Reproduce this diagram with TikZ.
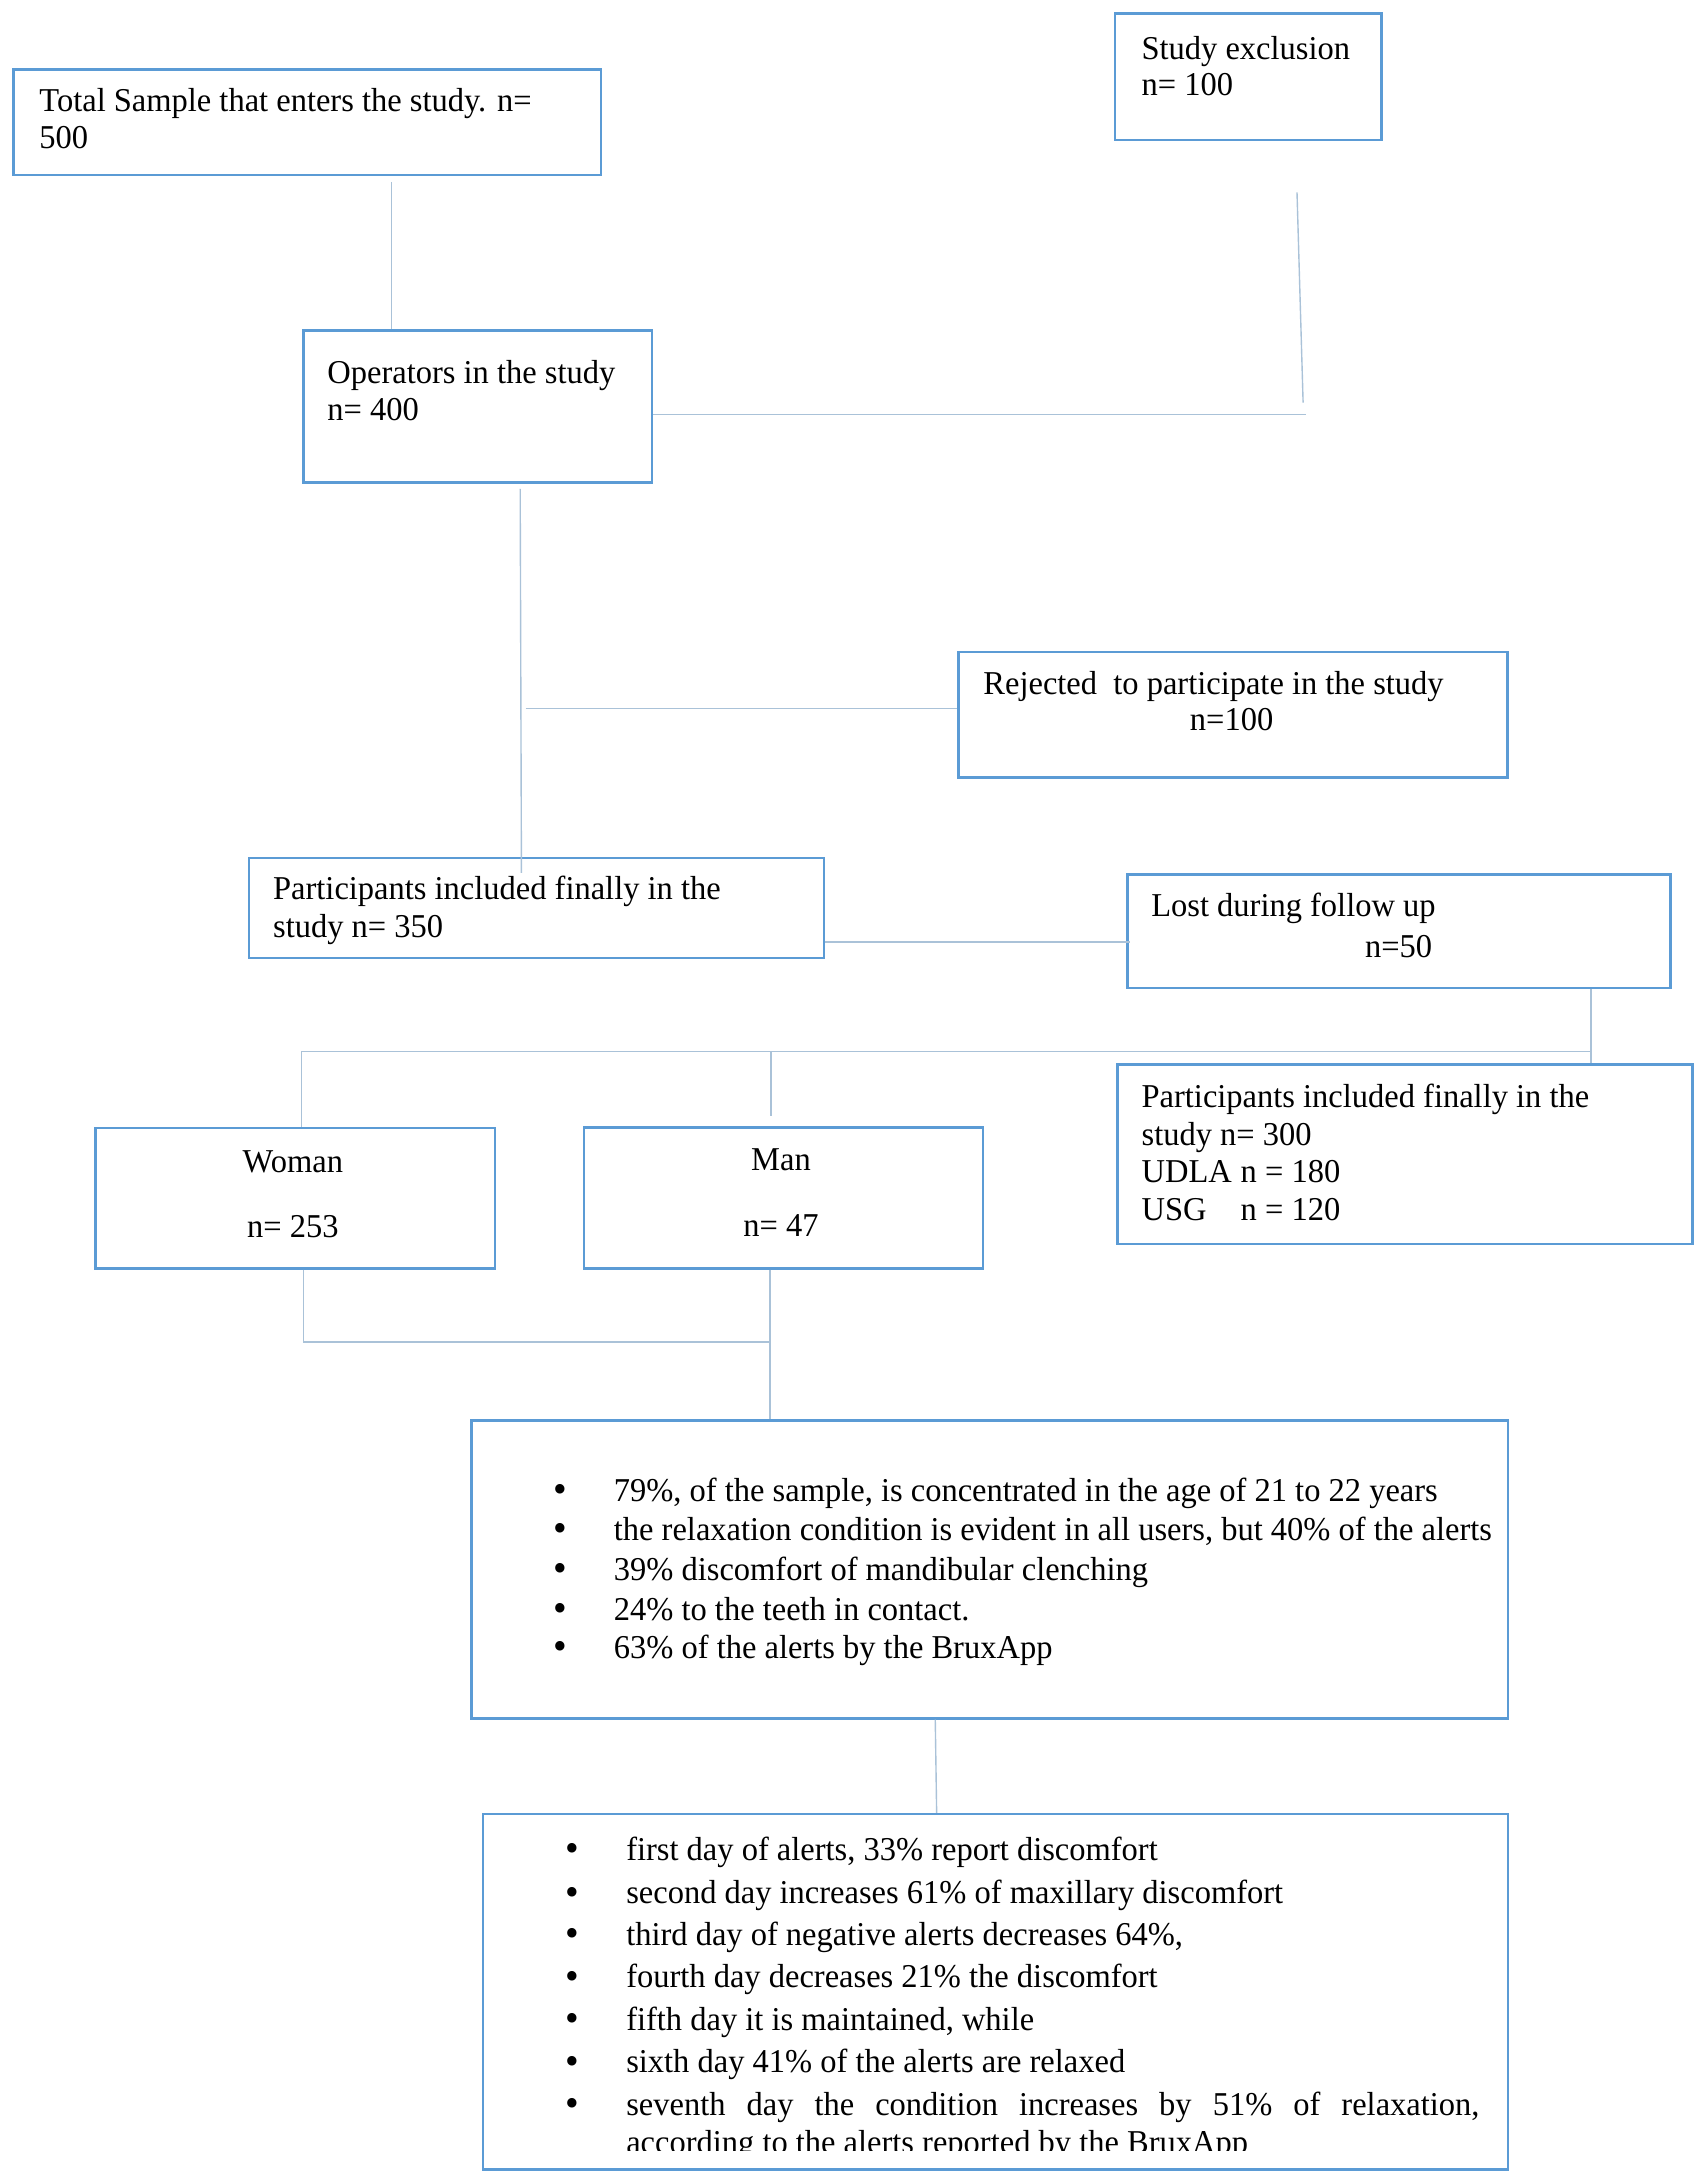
\documentclass[tikz,border=0pt]{standalone}
\usepackage{fontspec}
\setmainfont{Liberation Serif}[FakeStretch=0.975]
\definecolor{boxblue}{RGB}{91,155,213}
\definecolor{linkgray}{RGB}{170,194,216}
\newcommand{\bigbul}{\smash{\raisebox{-0.6pt}{\scalebox{1.2}{\textbullet}}}}
\begin{document}
\begin{tikzpicture}[x=0.5pt,y=-0.5pt,
  box/.style={draw=boxblue, line width=0.9pt, rectangle, inner sep=0pt, anchor=north west},
  txt/.style={inner sep=0pt, anchor=base west, font=\fontsize{12}{14}\selectfont},
  ctxt/.style={txt, anchor=base},
  link/.style={draw=linkgray, line width=0.5pt}]
\fill[white] (0,0) rectangle (1225,1567);
\useasboundingbox (0,0) rectangle (1225,1567);

% boxes
\node[box, minimum width=211.5pt, minimum height=38pt]    (tot)  at (9,49) {};
\node[box, minimum width=96pt,    minimum height=45.5pt]  (exc)  at (802,9) {};
\node[box, minimum width=125.5pt, minimum height=54.75pt] (ope)  at (217.5,237) {};
\node[box, minimum width=197.5pt, minimum height=45.25pt] (rej)  at (689.5,468.5) {};
\node[box, minimum width=207pt,   minimum height=36pt]    (p350) at (178.5,617) {};
\node[box, minimum width=195.5pt, minimum height=40.75pt] (lost) at (811,629) {};
\node[box, minimum width=207pt,   minimum height=64.75pt] (p300) at (804,765.5) {};
\node[box, minimum width=143.75pt,minimum height=50.5pt]  (wom)  at (68,811.5) {};
\node[box, minimum width=143.75pt,minimum height=50.75pt] (man)  at (419.5,811) {};
\node[box, minimum width=373.25pt,minimum height=107.25pt](res1) at (338.5,1022) {};
\node[box, minimum width=369pt,   minimum height=128pt]   (res2) at (347,1305.5) {};

% texts
\node[txt] (tot1) at (28,80.4) {Total Sample that enters the study. n=};
\node[txt] (tot2) at (28,107.3) {500};
\node[txt] (exc1) at (821.7,42.7) {Study exclusion};
\node[txt] (exc2) at (821.7,69.1) {n= 100};
\node[txt] (ope1) at (235.4,276) {Operators in the study};
\node[txt] (ope2) at (235.4,303) {n= 400};
\node[txt] (rej1) at (707.8,500) {Rejected\ \ to participate in the study};
\node[txt] (rej2) at (856.5,526.4) {n=100};
\node[txt] (p3501) at (196.3,648) {Participants included finally in the};
\node[txt] (p3502) at (196.3,675) {study n= 350};
\node[txt] (lost1) at (828.7,660.1) {Lost during follow up};
\node[txt, anchor=base east] (lost2) at (1031.7,689.4) {n=50};
\node[txt] (p3001) at (821.7,797.5) {Participants included finally in the};
\node[txt] (p3002) at (821.7,824.6) {study n= 300};
\node[txt] (p3003) at (821.7,851.7) {\makebox[35.7pt][l]{UDLA}n = 180};
\node[txt] (p3004) at (821.7,878.6) {\makebox[35.7pt][l]{USG}n = 120};
\node[ctxt] (wom1) at (210.9,844.3) {Woman};
\node[ctxt] (wom2) at (210.9,891.5) {n= 253};
\node[ctxt] (man1) at (562.4,843) {Man};
\node[ctxt] (man2) at (562.4,890.6) {n= 47};

% results 1
\node[ctxt] (ba1) at (403.3,1081) {\bigbul};
\node[ctxt] (ba2) at (403.3,1109) {\bigbul};
\node[ctxt] (ba3) at (403.3,1137.8) {\bigbul};
\node[ctxt] (ba4) at (403.3,1166.6) {\bigbul};
\node[ctxt] (ba5) at (403.3,1194) {\bigbul};
\node[txt] (ta1) at (441.7,1081) {79\%, of the sample, is concentrated in the age of 21 to 22 years};
\node[txt] (ta2) at (441.7,1109) {the relaxation condition is evident in all users, but 40\% of the alerts};
\node[txt] (ta3) at (441.7,1137.8) {39\% discomfort of mandibular clenching};
\node[txt] (ta4) at (441.7,1166.6) {24\% to the teeth in contact.};
\node[txt] (ta5) at (441.7,1194) {63\% of the alerts by the BruxApp};

% results 2
\node[ctxt] (bb1) at (412.4,1339.5) {\bigbul};
\node[ctxt] (bb2) at (412.4,1370.7) {\bigbul};
\node[ctxt] (bb3) at (412.4,1400.7) {\bigbul};
\node[ctxt] (bb4) at (412.4,1431.2) {\bigbul};
\node[ctxt] (bb5) at (412.4,1461.9) {\bigbul};
\node[ctxt] (bb6) at (412.4,1492.6) {\bigbul};
\node[ctxt] (bb7) at (412.4,1523.1) {\bigbul};
\node[txt] (tb1) at (450.6,1339.5) {first day of alerts, 33\% report discomfort};
\node[txt] (tb2) at (450.6,1370.7) {second day increases 61\% of maxillary discomfort};
\node[txt] (tb3) at (450.6,1400.7) {third day of negative alerts decreases 64\%,};
\node[txt] (tb4) at (450.6,1431.2) {fourth day decreases 21\% the discomfort};
\node[txt] (tb5) at (450.6,1461.9) {fifth day it is maintained, while};
\node[txt] (tb6) at (450.6,1492.6) {sixth day 41\% of the alerts are relaxed};
\node[txt] (tb7) at (450.6,1523.1) {\hbox to 307.2pt{seventh\hfill day\hfill the\hfill condition\hfill increases\hfill by\hfill 51\%\hfill of\hfill relaxation,}};
\begin{scope}
  \clip (347,1305.5) rectangle (1085,1548.5);
  \node[txt] (tb8) at (450.6,1550.7) {according to the alerts reported by the BruxApp};
\end{scope}

% connectors
\coordinate (c1) at (281.8,131);
\draw[link] (c1) -- (c1 |- ope.north);
\coordinate (ex1) at (934,138.5);
\coordinate (ex2) at (938.4,290);
\draw[link] (ex1) -- (ex2);
\coordinate (ex3) at (940.5,298.4);
\draw[link] (ope.east |- ex3) -- (ex3);
\coordinate (o1) at (374.6,352);
\coordinate (o2) at (375.5,628.5);
\draw[link] (o1) -- (o2);
\coordinate (r1) at (378.6,510);
\draw[link] (r1) -- (r1 -| rej.west);
\coordinate (l1) at (813.8,678.4);
\draw[link] (p350.east |- l1) -- (l1);
\coordinate (lx) at (1145.8,757.4);
\draw[link] (lx |- lost.south) -- (lx |- p300.north);
\coordinate (wx) at (217,757.4);
\draw[link] (wx) -- (lx);
\draw[link] (wx) -- (wx |- wom.north);
\coordinate (mx) at (555.3,757.4);
\coordinate (my) at (555.3,803.5);
\draw[link] (mx) -- (my);
\coordinate (wb) at (218.7,966.4);
\coordinate (mb) at (554.5,966.4);
\draw[link] (wb |- wom.south) -- (wb) -- (mb);
\draw[link] (mb |- man.south) -- (mb |- res1.north);
\coordinate (q1) at (673.5,1236.5);
\coordinate (q2) at (674.5,1305.5);
\draw[link] (q1 |- res1.south) -- (q2 |- res2.north);
\end{tikzpicture}
\end{document}
